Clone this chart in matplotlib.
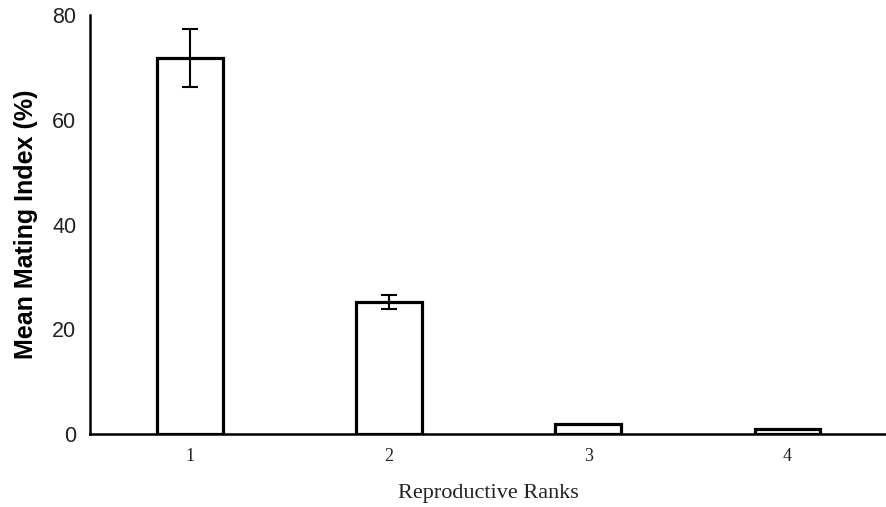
import matplotlib
matplotlib.use("Agg")
import matplotlib.pyplot as plt

ranks = ["1", "2", "3", "4"]
means = [71.8, 25.2, 2.0, 1.0]
errors = [5.6, 1.4, 0.0, 0.0]

fig = plt.figure(figsize=(8.87, 5.07), dpi=100)
ax = fig.add_axes([0.1015, 0.144, 0.8985, 0.826])
x = [1, 2, 3, 4]
ax.bar(x, means, width=0.33, color="white", edgecolor="black", linewidth=2.3, zorder=2)
ax.errorbar([xi for xi, e in zip(x, errors) if e > 0],
            [m for m, e in zip(means, errors) if e > 0],
            yerr=[e for e in errors if e > 0], fmt="none", ecolor="black",
            elinewidth=1.5, capsize=6, capthick=1.5, zorder=3)
ax.set_xlim(0.5, 4.5)
ax.set_ylim(0, 80)
ax.set_yticks([0, 20, 40, 60, 80])
ax.set_xticks(x)
ax.set_xticklabels(ranks, fontfamily="Liberation Serif", fontsize=13, color="#222222")
for lab in ax.get_yticklabels():
    lab.set_fontfamily("Liberation Sans")
    lab.set_fontsize(15.5)
    lab.set_color("#222222")
ax.tick_params(axis="x", length=0, pad=10)
ax.tick_params(axis="y", length=0, pad=10)
for s in ["top", "right"]:
    ax.spines[s].set_visible(False)
ax.spines["left"].set_linewidth(1.8)
ax.spines["bottom"].set_linewidth(1.8)
ax.set_ylabel("Mean Mating Index (%)", fontfamily="Liberation Sans", fontweight="bold", fontsize=18, labelpad=10)
ax.set_xlabel("Reproductive Ranks", fontfamily="Liberation Serif", fontsize=16, labelpad=14, color="#222222")
fig.savefig("out.png", dpi=100)
